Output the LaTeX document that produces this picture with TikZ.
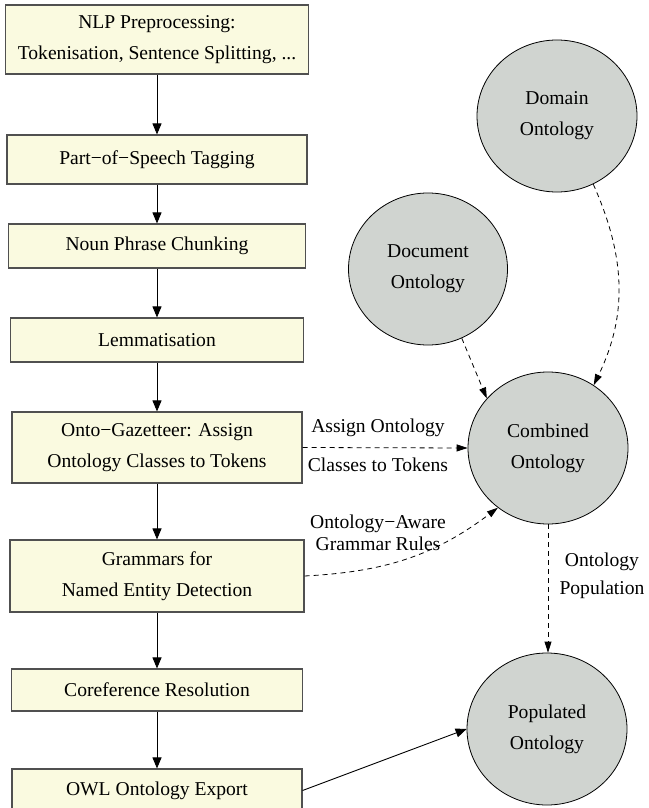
\documentclass[tikz,border=0pt]{standalone}
\usepackage{fontspec}
\setmainfont{Liberation Serif}
\usetikzlibrary{shapes.geometric,arrows.meta}

\definecolor{boxfill}{RGB}{250,250,224}
\definecolor{boxborder}{RGB}{80,80,80}
\definecolor{ontofill}{RGB}{208,212,208}

\newcommand\diagfont{\fontsize{19.6pt}{31pt}\selectfont}
\newcommand\tightfont{\fontsize{19.6pt}{22pt}\selectfont}
\newcommand\popfont{\fontsize{19.6pt}{28pt}\selectfont}

\tikzset{
  stagebox/.style={draw=boxborder, fill=boxfill, line width=1.1pt, inner sep=0pt,
    align=center, font=\diagfont},
  onto/.style={ellipse, draw=black, fill=ontofill, line width=0.8pt,
    minimum width=160pt, minimum height=152pt, inner sep=0pt, align=center, font=\diagfont},
  flow/.style={-{Triangle[length=11pt,width=9pt]}, line width=0.9pt},
  link/.style={-{Triangle[length=11pt,width=7pt]}, line width=0.8pt,
    dash pattern=on 5pt off 4pt},
  lbl/.style={inner sep=0pt, align=center, font=\diagfont}
}

\begin{document}
\begin{tikzpicture}[x=1pt, y=-1pt]
\useasboundingbox (0,0) rectangle (648,808);

% processing pipeline
\node[stagebox, minimum width=303pt, minimum height=69pt] (nlp) at (157,39.5)
  {NLP Preprocessing:\\Tokenisation, Sentence Splitting, ...};
\node[stagebox, minimum width=300pt, minimum height=49pt] (pos) at (157,159.5)
  {Part−of−Speech Tagging};
\node[stagebox, minimum width=297pt, minimum height=44pt] (npc) at (157,246)
  {Noun Phrase Chunking};
\node[stagebox, minimum width=293pt, minimum height=44pt] (lem) at (157,340)
  {Lemmatisation};
\node[stagebox, minimum width=290pt, minimum height=71pt] (gaz) at (157,447.5)
  {Onto−Gazetteer: Assign\\Ontology Classes to Tokens};
\node[stagebox, minimum width=294pt, minimum height=72pt] (ner) at (157,576)
  {Grammars for\\Named Entity Detection};
\node[stagebox, minimum width=291pt, minimum height=42pt] (coref) at (157,690)
  {Coreference Resolution};
\node[stagebox, minimum width=290pt, minimum height=43pt] (owl) at (157,790.5)
  {OWL Ontology Export};

\draw[flow] (nlp) -- (pos);
\draw[flow] (pos) -- (npc);
\draw[flow] (npc) -- (lem);
\draw[flow] (lem) -- (gaz);
\draw[flow] (gaz) -- (ner);
\draw[flow] (ner) -- (coref);
\draw[flow] (coref) -- (owl);

% ontologies
\node[onto] (dom) at (557,116) {Domain\\Ontology};
\node[onto, minimum width=159pt] (doc) at (428,269) {Document\\Ontology};
\node[onto] (comb) at (548,448) {Combined\\Ontology};
\node[onto] (popl) at (547,729) {Populated\\Ontology};

\draw[link] (dom.-62) to[out=-66, in=64] (comb.54);
\draw[link] (doc.-64) -- (comb.141);
\draw[link] (gaz.east) -- (comb.west);
\node[lbl] (assignA) at (378,428) {Assign Ontology};
\node[lbl] (assignB) at (378,465) {Classes to Tokens};
\draw[link] (ner.east) to[out=3, in=217] (comb.230);
\node[lbl, font=\tightfont] (rules) at (378,533) {Ontology−Aware\\Grammar Rules};
\draw[link] (comb.south) -- (comb.south |- popl.north);
\node[lbl, font=\popfont] (poplbl) at (602,576) {Ontology\\Population};
\draw[flow] (owl.east) -- (popl.west);
\end{tikzpicture}
\end{document}
